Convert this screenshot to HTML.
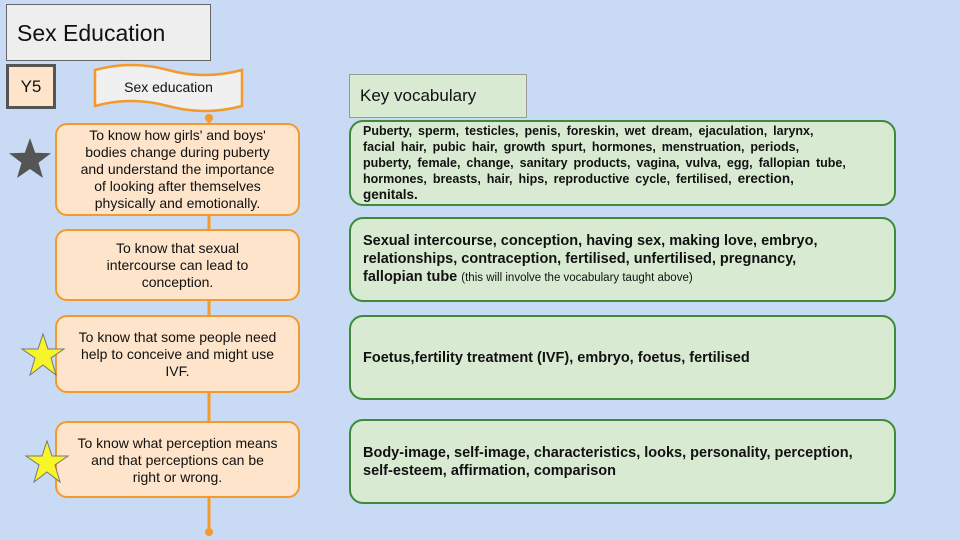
<!DOCTYPE html>
<html><head><meta charset="utf-8"><style>
body{margin:0;width:960px;height:540px;background:#c9daf5;position:relative;overflow:hidden;font-family:"Liberation Sans",sans-serif;color:#111}
.a{position:absolute;box-sizing:border-box}
.o{background:#fde4ca;border:2px solid #f39a2a;border-radius:12px;display:flex;align-items:center;justify-content:center;text-align:center;font-size:14px;line-height:17px;padding:0 2px;white-space:nowrap}
.g{background:#d9ead3;border:2px solid #3f8a3a;border-radius:14px;font-weight:bold;font-size:14.5px;line-height:18px;padding:0 12px;display:flex;align-items:center;white-space:nowrap}
</style></head><body>
<svg class="a" style="left:0;top:0" width="960" height="540">
<line x1="209" y1="118" x2="209" y2="532" stroke="#f39a2a" stroke-width="3"/>
<circle cx="209" cy="118" r="4" fill="#f39a2a"/>
<circle cx="209" cy="532" r="4" fill="#f39a2a"/>
<path d="M95,70 Q132,60 168,70 T242,70 L242,106 Q205,116 168,106 T95,106 Z" fill="#f0f0f0" stroke="#f39a2a" stroke-width="2.5"/>
</svg>
<div class="a" style="left:6px;top:4px;width:205px;height:57px;background:#eeeeee;border:1px solid #666;font-size:23px;padding:15px 0 0 10px">Sex Education</div>
<div class="a" style="left:6px;top:64px;width:50px;height:45px;background:#fde4ca;border:3px solid #555;font-size:17px;text-align:center;padding-top:10px">Y5</div>
<div class="a" style="left:95px;top:79px;width:147px;text-align:center;font-size:14px">Sex education</div>
<div class="a o" style="left:55px;top:123px;width:245px;height:93px"><div>To know how girls' and boys'<br>bodies change during puberty<br>and understand the importance<br>of looking after themselves<br>physically and emotionally.</div></div>
<div class="a o" style="left:55px;top:229px;width:245px;height:72px"><div>To know that sexual<br>intercourse can lead to<br>conception.</div></div>
<div class="a o" style="left:55px;top:315px;width:245px;height:78px;align-items:flex-start;padding-top:12px"><div>To know that some people need<br>help to conceive and might use<br>IVF.</div></div>
<div class="a o" style="left:55px;top:421px;width:245px;height:77px;align-items:flex-start;padding-top:12px"><div>To know what perception means<br>and that perceptions can be<br>right or wrong.</div></div>
<svg class="a" style="left:0;top:0" width="100" height="540">
<polygon points="30,138 35.2,152.8 51,153.2 38.5,162.8 43,178 30,169 17,178 21.5,162.8 9,153.2 24.8,152.8" fill="#555"/>
<polygon points="43,334 48,349 64,349 51,358 56,375 43,365 30,375 35,358 22,349 38,349" fill="#f7f42a" stroke="#777" stroke-width="1"/>
<polygon points="47,441 52,456 68,456 55,465 60,482 47,472 34,482 39,465 26,456 42,456" fill="#f7f42a" stroke="#777" stroke-width="1"/>
</svg>
<div class="a" style="left:349px;top:74px;width:178px;height:44px;background:#d9ead3;border:1px solid #999;font-size:17px;padding:11px 0 0 10px">Key vocabulary</div>
<div class="a g" style="left:349px;top:120px;width:547px;height:86px;line-height:16px;font-size:12.5px;align-items:flex-start;padding-top:1px;word-spacing:2.5px"><div>Puberty, sperm, testicles, penis, foreskin, wet dream, ejaculation, larynx,<br>facial hair, pubic hair, growth spurt, hormones, menstruation, periods,<br>puberty, female, change, sanitary products, vagina, vulva, egg, fallopian tube,<br>hormones, breasts, hair, hips, reproductive cycle, fertilised, <span style="font-size:13.5px">erection,</span><br><span style="font-size:13.5px">genitals.</span></div></div>
<div class="a g" style="left:349px;top:217px;width:547px;height:85px"><div>Sexual intercourse, conception, having sex, making love, embryo,<br>relationships, contraception, fertilised, unfertilised, pregnancy,<br>fallopian tube <span style="font-weight:normal;font-size:11.5px">(this will involve the vocabulary taught above)</span></div></div>
<div class="a g" style="left:349px;top:315px;width:547px;height:85px"><div>Foetus,fertility treatment (IVF), embryo, foetus, fertilised</div></div>
<div class="a g" style="left:349px;top:419px;width:547px;height:85px;align-items:flex-start;padding-top:23px"><div>Body-image, self-image, characteristics, looks, personality, perception,<br>self-esteem, affirmation, comparison</div></div>
</body></html>
